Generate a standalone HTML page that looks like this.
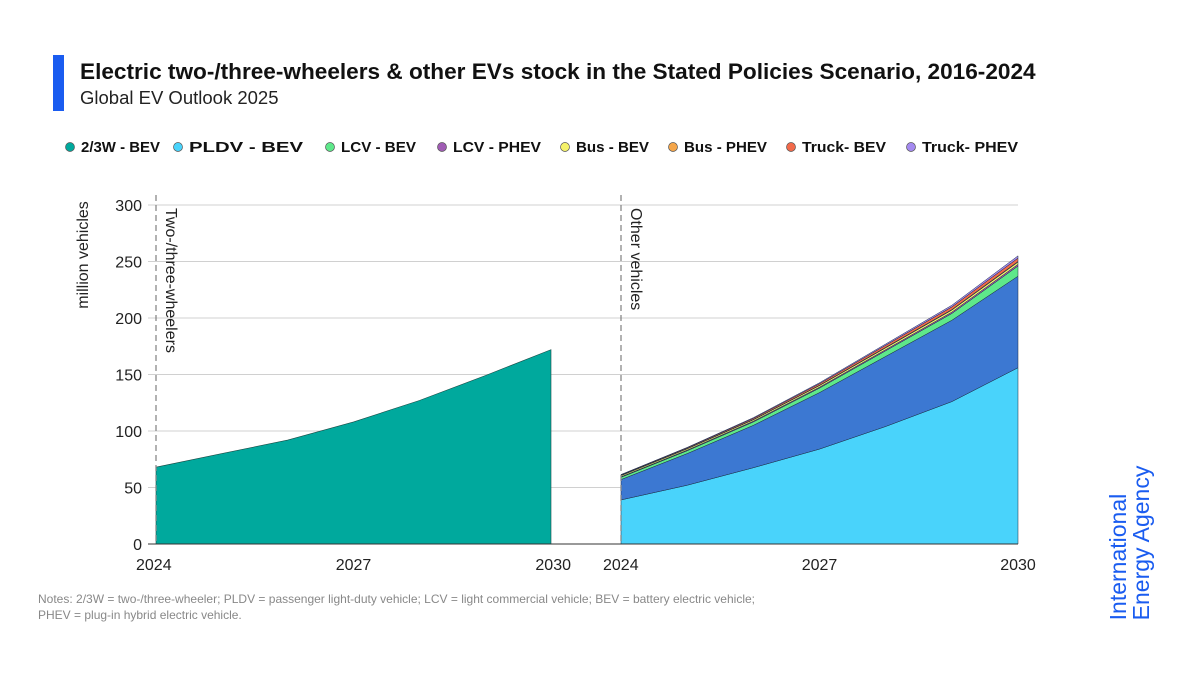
<!DOCTYPE html>
<html><head><meta charset="utf-8">
<style>
body{margin:0;width:1200px;height:675px;background:#fff;font-family:"Liberation Sans",sans-serif;overflow:hidden;position:relative}
.t{position:absolute;white-space:nowrap}
</style></head><body>
<div class="t" style="left:53px;top:55px;width:11px;height:56px;background:#1a5cf0"></div>
<div class="t" style="left:80px;top:59px;font-size:22.6px;font-weight:bold;color:#111">Electric two-/three-wheelers &amp; other EVs stock in the Stated Policies Scenario, 2016-2024</div>
<div class="t" style="left:80px;top:87px;font-size:18.5px;color:#222">Global EV Outlook 2025</div>
<div class="t" style="left:38px;top:591px;font-size:12px;color:#888;line-height:16px">Notes: 2/3W = two-/three-wheeler; PLDV = passenger light-duty vehicle; LCV = light commercial vehicle; BEV = battery electric vehicle;<br>PHEV = plug-in hybrid electric vehicle.</div>
<div class="t" style="left:1130px;top:543px;transform:translate(-50%,-50%) rotate(-90deg);font-size:23px;line-height:23px;color:#1a5cf0;text-align:left">International<br>Energy Agency</div>
<svg id="c" width="1200" height="675" style="position:absolute;left:0;top:0" xmlns="http://www.w3.org/2000/svg"></svg>
<script>
const years=[2024,2025,2026,2027,2028,2029,2030];
const w23=[68,80,92,108,127,149,172];
const pldvBev=[39,52,67.5,84,104,126,156];
const pldvPhev=[18,28,37.5,50,62,72,81];
const lcvBev=[2,2.5,3,4,5,6,9];
const lcvPhev=[0.5,0.6,0.7,0.8,1,1.2,1.5];
const busBev=[1,1.1,1.2,1.4,1.6,1.8,2];
const busPhev=[0.2,0.2,0.3,0.3,0.4,0.4,0.5];
const truckBev=[0.5,0.7,1,1.4,1.9,2.4,3];
const truckPhev=[0.3,0.4,0.6,0.8,1.1,1.5,2];
const yTicks=[0,50,100,150,200,250,300];
const xTicks=[2024,2027,2030];
const legendNames=["2/3W - BEV","PLDV - BEV","LCV - BEV","LCV - PHEV","Bus - BEV","Bus - PHEV","Truck- BEV","Truck- PHEV"];
const legendColors=["#00a99d","#49d3fb","#5ee88a","#a05cb4","#f5f26a","#f5a64a","#f26a4a","#a48af0"];
const legendX=[70,178,330,442,565,673,791,911];
const legendW=[79,114,75,88,73,83,84,96];

const svg=document.getElementById('c');const NS="http://www.w3.org/2000/svg";
function el(t,a,txt){const e=document.createElementNS(NS,t);for(const k in a)e.setAttribute(k,a[k]);if(txt!=null)e.textContent=txt;svg.appendChild(e);return e;}
const y=v=>544-v*(339/300);
const xL=yr=>156+(yr-2024)*(395/6);
const xR=yr=>621+(yr-2024)*(397/6);
yTicks.forEach(v=>{
 if(v>0){const g=el('line',{x1:148,x2:1018,y1:y(v),y2:y(v),stroke:'#d0d0d0','stroke-width':1});
 }
 const t=el('text',{x:142,y:y(v)+6,'text-anchor':'end','font-size':16,fill:'#222'},String(v));
 
});
let p='M'+xL(years[0])+','+y(0);years.forEach((yr,i)=>p+=' L'+xL(yr)+','+y(w23[i]));p+=' L'+xL(2030)+','+y(0)+'Z';
const a=el('path',{d:p,fill:'#00a99d',stroke:'#1a4a45','stroke-width':0.6});

const series=[[pldvBev,'#49d3fb','area-pldv-bev'],[pldvPhev,'#3c78d2','area-pldv-phev'],[lcvBev,'#5ee88a','area-lcv-bev'],[lcvPhev,'#a05cb4','area-lcv-phev'],[busBev,'#f5f26a','area-bus-bev'],[busPhev,'#f5a64a','area-bus-phev'],[truckBev,'#f26a4a','area-truck-bev'],[truckPhev,'#a48af0','area-truck-phev']];
let base=years.map(()=>0);
series.forEach(([d,c,n])=>{
 const top=base.map((b,i)=>b+d[i]);
 let q='M'+xR(years[0])+','+y(base[0]);
 years.forEach((yr,i)=>q+=' L'+xR(yr)+','+y(top[i]));
 for(let i=years.length-1;i>=0;i--)q+=' L'+xR(years[i])+','+y(base[i]);
 const e=el('path',{d:q+'Z',fill:c,stroke:'#1a2a40','stroke-width':0.5});
 
 base=top;
});
const ax=el('line',{x1:148,x2:1018,y1:544,y2:544,stroke:'#333','stroke-width':1});

[156,621].forEach((x,i)=>{const d=el('line',{x1:x,x2:x,y1:195,y2:544,stroke:'#888','stroke-width':1.3,'stroke-dasharray':'6,4'});
 });
const l1=el('text',{transform:'translate(166,208) rotate(90)','font-size':16,fill:'#222'},'Two-/three-wheelers');

const l2=el('text',{transform:'translate(631,208) rotate(90)','font-size':16,fill:'#222'},'Other vehicles');

const yt=el('text',{transform:'translate(88,255) rotate(-90)','text-anchor':'middle','font-size':16,fill:'#222'},'million vehicles');

xTicks.forEach(yr=>{
 [[xL,'l'],[xR,'r']].forEach(([f,s])=>{
  let anc='middle';if(yr===2024)anc='start';if(yr===2030&&s==='l')anc='end';
  let x=f(yr);if(s==='l'&&yr===2024)x-=20;if(s==='r'&&yr===2024)x-=18;if(s==='l'&&yr===2030)x+=20;
  const t=el('text',{x:x,y:570,'text-anchor':anc,'font-size':16,fill:'#222'},String(yr));
  
 });
});
legendNames.forEach((n,i)=>{
 const c=el('circle',{cx:legendX[i],cy:147,r:4.5,fill:legendColors[i],stroke:'#555','stroke-width':0.7});
 
 const t=el('text',{x:legendX[i]+11,y:152,'font-size':15,'font-weight':'bold',fill:'#111',textLength:legendW[i],lengthAdjust:'spacingAndGlyphs'},n);
 
});
</script>
</body></html>
